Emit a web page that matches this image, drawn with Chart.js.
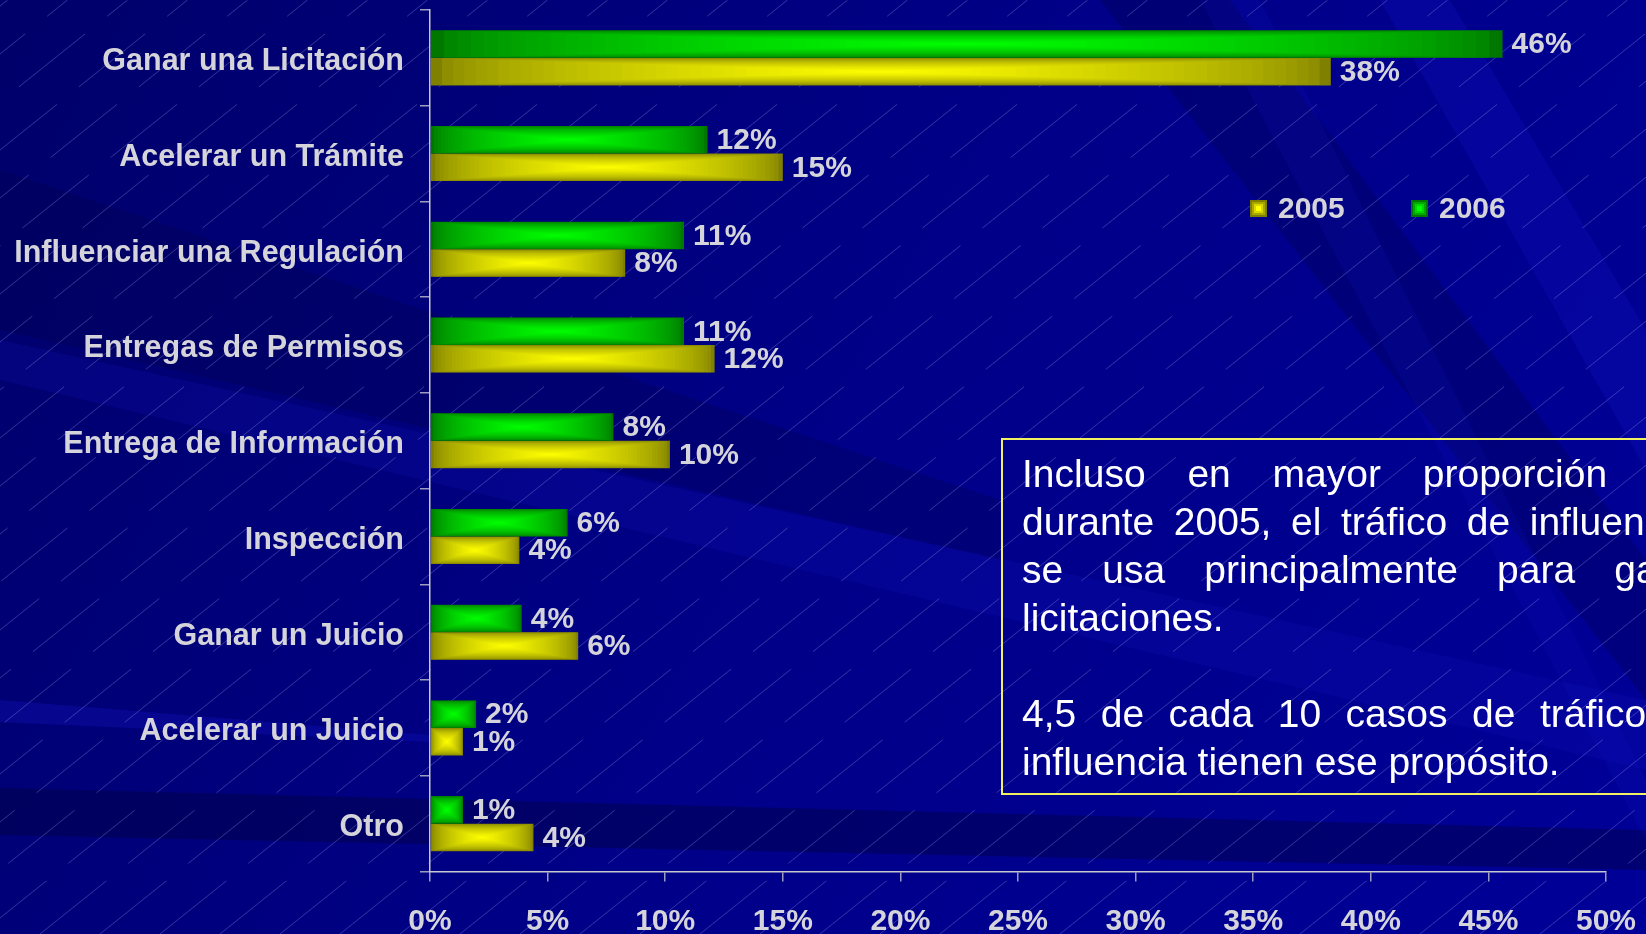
<!DOCTYPE html>
<html>
<head>
<meta charset="utf-8">
<script src="https://cdn.jsdelivr.net/npm/chart.js@4.4.1/dist/chart.umd.min.js"></script>
<style>
  html, body { margin:0; padding:0; width:1646px; height:934px; overflow:hidden; background:#000080; }
  #wrap { position:relative; width:1646px; height:934px; overflow:hidden; }
  #c { position:absolute; left:0; top:0; }
  .leg { position:absolute; top:193px; height:30px; display:flex; align-items:center;
         font:bold 30px "Liberation Sans", Arial, sans-serif; color:#D4D4DA; }
  .mk { width:17px; height:17px; margin-right:11px; box-sizing:border-box; }
  .mk.y { background:#ffff00; box-shadow: inset 0 0 0 2px #808000, inset 0 0 0 4px #a8a800, inset 0 0 0 6px #d8d800; }
  .mk.g { background:#00ff00; box-shadow: inset 0 0 0 2px #007800, inset 0 0 0 4px #00a800, inset 0 0 0 6px #00d800; }
  #note { position:absolute; left:1001px; top:438px; width:692px; height:336px;
          border:2px solid #F0F060; padding:10px 19px 7px 19px;
          font:39px/48px "Liberation Sans", Arial, sans-serif; color:#FFFFFF; }
  #note .j { text-align:justify; text-align-last:justify; }
  #note .l { text-align:left; white-space:nowrap; }
  #note .j, #note .l { height:48px; }
</style>
</head>
<body>
<div id="wrap">
  <canvas id="c" width="1646" height="934"></canvas>
  <div class="leg" style="left:1250px;"><div class="mk y"></div><span id="lg0"></span></div>
  <div class="leg" style="left:1411px;"><div class="mk g"></div><span id="lg1"></span></div>
  <div id="note">
    <div class="j">Incluso en mayor proporción que</div>
    <div class="j">durante 2005, el tráfico de influencias</div>
    <div class="j">se usa principalmente para ganar</div>
    <div class="l">licitaciones.</div>
    <div class="l">&nbsp;</div>
    <div class="j">4,5 de cada 10 casos de tráfico de</div>
    <div class="l">influencia tienen ese propósito.</div>
  </div>
</div>
<script>
// ---- data ----
const categories = ['Ganar una Licitación','Acelerar un Trámite','Influenciar una Regulación','Entregas de Permisos','Entrega de Información','Inspección','Ganar un Juicio','Acelerar un Juicio','Otro'];
const seriesNames = ['2005','2006'];
const values2005 = [38.3, 15.0, 8.3, 12.1, 10.2, 3.8, 6.3, 1.4, 4.4];
const values2006 = [45.6, 11.8, 10.8, 10.8, 7.8, 5.85, 3.9, 1.96, 1.4];
const xTicks = [0,5,10,15,20,25,30,35,40,45,50];

document.getElementById('lg0').textContent = seriesNames[0];
document.getElementById('lg1').textContent = seriesNames[1];

const FONT = '"Liberation Sans", Arial, sans-serif';
const TXT = '#D4D4DA';

const bgPlugin = {
  id: 'bg',
  beforeDraw(chart) {
    const { ctx, width, height } = chart;
    ctx.save();
    const g = ctx.createLinearGradient(0, 0, width, height);
    g.addColorStop(0, '#00006A');
    g.addColorStop(0.5, '#000088');
    g.addColorStop(1, '#000098');
    ctx.fillStyle = g;
    ctx.fillRect(0, 0, width, height);
    const poly = (pts, col) => {
      ctx.beginPath(); ctx.moveTo(pts[0][0], pts[0][1]);
      for (let i = 1; i < pts.length; i++) ctx.lineTo(pts[i][0], pts[i][1]);
      ctx.closePath(); ctx.fillStyle = col; ctx.fill();
    };
    // decorative bands
    poly([[0,170],[0,330],[1000,560],[1000,500]], 'rgba(0,0,60,0.22)');
    poly([[0,340],[0,380],[1646,770],[1646,700]], 'rgba(20,20,190,0.2)');
    poly([[0,700],[0,722],[430,742],[430,735]], 'rgba(20,20,200,0.3)');
    poly([[0,788],[0,835],[1646,870],[1646,830]], 'rgba(0,0,60,0.4)');
    poly([[1100,0],[1230,0],[1646,560],[1646,700]], 'rgba(0,0,60,0.25)');
    poly([[1380,0],[1450,0],[1646,330],[1646,470]], 'rgba(20,20,200,0.25)');
    poly([[1200,0],[1260,0],[1646,780],[1646,840]], 'rgba(20,20,200,0.15)');
    // thin dashed diagonal lines
    ctx.strokeStyle = 'rgba(190,190,255,0.28)';
    ctx.lineWidth = 1;
    ctx.setLineDash([85, 28]);
    const slope = 0.8;
    for (let x0 = -1400; x0 < width + 100; x0 += 60) {
      ctx.beginPath();
      ctx.moveTo(x0, height);
      ctx.lineTo(x0 + height / slope, 0);
      ctx.stroke();
    }
    ctx.restore();
  }
};

const lerp = (a, b, t) => a.map((v, i) => Math.round(v + (b[i] - v) * t));
const shadePlugin = {
  id: 'shade',
  afterDatasetsDraw(chart) {
    const ctx = chart.ctx;
    ctx.save();
    chart.data.datasets.forEach((ds, di) => {
      const meta = chart.getDatasetMeta(di);
      if (meta.hidden) return;
      meta.data.forEach(bar => {
        const p = bar.getProps(['x','y','base','height'], true);
        const left = Math.min(p.base, p.x), right = Math.max(p.base, p.x);
        const top = p.y - p.height / 2, w = right - left, h = p.height;
        const N = 40;
        for (let i = 1; i < N; i++) {
          const t = i / N;
          const c = lerp(ds.edgeRGB, ds.centerRGB, Math.pow(t, 0.6));
          ctx.fillStyle = `rgb(${c[0]},${c[1]},${c[2]})`;
          const ix = (w / 2) * t, iy = (h / 2) * t;
          ctx.fillRect(left + ix, top + iy, w - 2 * ix, h - 2 * iy);
        }
      });
    });
    ctx.restore();
  }
};

const labelPlugin = {
  id: 'vlabels',
  afterDatasetsDraw(chart) {
    const ctx = chart.ctx;
    ctx.save();
    ctx.font = 'bold 30px ' + FONT;
    ctx.fillStyle = TXT;
    ctx.textAlign = 'left';
    ctx.textBaseline = 'middle';
    chart.data.datasets.forEach((ds, di) => {
      const meta = chart.getDatasetMeta(di);
      meta.data.forEach((bar, i) => {
        ctx.fillText(Math.round(ds.data[i]) + '%', bar.x + 9, bar.y + 1);
      });
    });
    ctx.restore();
  }
};

new Chart(document.getElementById('c'), {
  type: 'bar',
  data: {
    labels: categories,
    datasets: [
      { label: seriesNames[1], data: values2006, backgroundColor: '#007800',
        edgeRGB: [0,120,0], centerRGB: [0,255,0],
        barPercentage: 1.0, categoryPercentage: 0.575, borderWidth: 0 },
      { label: seriesNames[0], data: values2005, backgroundColor: '#808000',
        edgeRGB: [128,128,0], centerRGB: [255,255,0],
        barPercentage: 1.0, categoryPercentage: 0.575, borderWidth: 0 }
    ]
  },
  options: {
    indexAxis: 'y',
    responsive: false,
    animation: false,
    layout: { padding: { top: 10, right: 40, left: 0, bottom: 0 } },
    plugins: { legend: { display: false }, tooltip: { enabled: false } },
    scales: {
      x: {
        min: 0, max: 50,
        afterBuildTicks: s => { s.ticks = xTicks.map(v => ({ value: v })); },
        afterFit: s => { s.height = 62.5; s.paddingLeft = 0; s.paddingRight = 0; },
        ticks: { callback: v => v + '%', color: TXT, font: { family: FONT, size: 30, weight: 'bold' }, padding: 22, maxRotation: 0, autoSkip: false },
        grid: { drawOnChartArea: false, drawTicks: true, tickLength: 10, color: '#9C9CC0', lineWidth: 1.5 },
        border: { display: true, color: '#C8C8D0', width: 1.5 }
      },
      y: {
        afterFit: s => { s.width = 430; s.paddingTop = 0; s.paddingBottom = 0; },
        ticks: { color: TXT, font: { family: FONT, size: 30.5, weight: 'bold' }, padding: 16, labelOffset: 4, autoSkip: false },
        grid: { drawOnChartArea: false, drawTicks: true, tickLength: 10, offset: true, color: '#9C9CC0', lineWidth: 1.5 },
        border: { display: true, color: '#C8C8D0', width: 1.5 }
      }
    }
  },
  plugins: [bgPlugin, shadePlugin, labelPlugin]
});
</script>
</body>
</html>
